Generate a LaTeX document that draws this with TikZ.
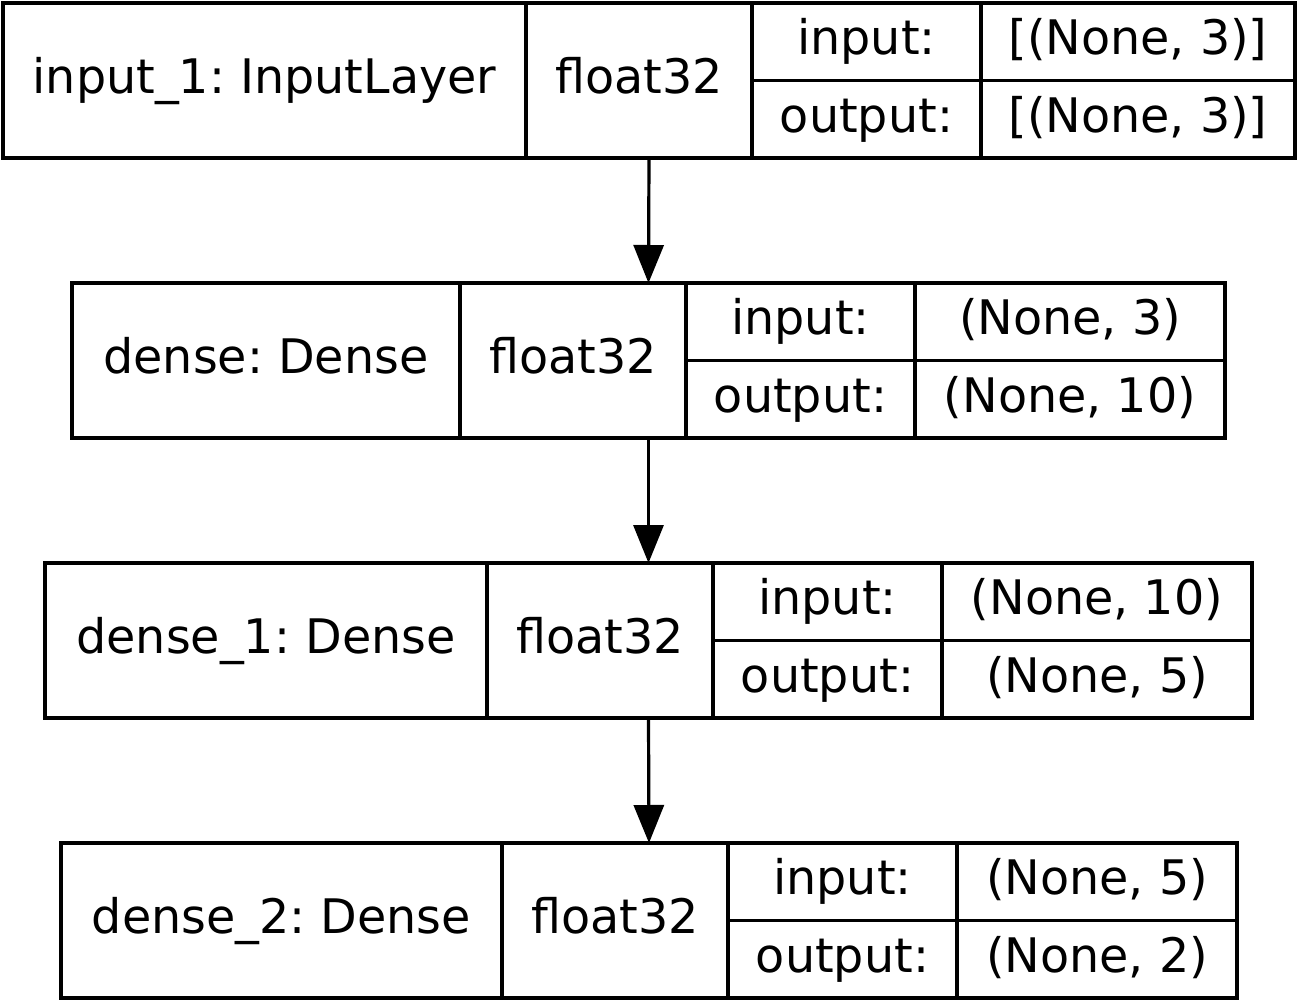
\documentclass[tikz,border=0pt]{standalone}
\usepackage{fontspec}
\setmainfont{DejaVu Sans}
\usetikzlibrary{arrows.meta}
\frenchspacing

\begin{document}
\begin{tikzpicture}[x=0.5pt,y=-0.5pt,line width=1.6pt]
            \tikzset{cell/.style 2 args={draw, inner sep=0pt, outer sep=0pt, minimum width=#1*0.5pt, minimum height=#2*0.5pt, font=\fontsize{23.8}{28}\selectfont, text height=18pt, text depth=5pt}};
            \tikzset{arr/.style={-{Triangle[width=15pt,length=19pt]}}};
            \useasboundingbox (0,0) rectangle (1298,1001);

            % input_1
            \node[cell={1292}{155}] (l1) at (649,80.5) {};
            \node[cell={523}{155}] (n1) at (264.5,80.5) {input\_1: InputLayer};
            \node[cell={226}{155}] (d1) at (639,80.5) {float32};
            \node[cell={229}{77.5}] (il1) at (866.5,41.75) {input:};
            \node[cell={314}{77.5}] (iv1) at (1138,41.75) {[(None, 3)]};
            \node[cell={229}{77.5}] (ol1) at (866.5,119.25) {output:};
            \node[cell={314}{77.5}] (ov1) at (1138,119.25) {[(None, 3)]};

            % dense
            \node[cell={1153}{155}] (l2) at (648.5,360.5) {};
            \node[cell={388}{155}] (n2) at (266,360.5) {dense: Dense};
            \node[cell={226}{155}] (d2) at (573,360.5) {float32};
            \node[cell={229}{77.5}] (il2) at (800.5,321.75) {input:};
            \node[cell={310}{77.5}] (iv2) at (1070,321.75) {(None, 3)};
            \node[cell={229}{77.5}] (ol2) at (800.5,399.25) {output:};
            \node[cell={310}{77.5}] (ov2) at (1070,399.25) {(None, 10)};

            % dense_1
            \node[cell={1207}{155}] (l3) at (648.5,640.5) {};
            \node[cell={442}{155}] (n3) at (266,640.5) {dense\_1: Dense};
            \node[cell={226}{155}] (d3) at (600,640.5) {float32};
            \node[cell={229}{77.5}] (il3) at (827.5,601.75) {input:};
            \node[cell={310}{77.5}] (iv3) at (1097,601.75) {(None, 10)};
            \node[cell={229}{77.5}] (ol3) at (827.5,679.25) {output:};
            \node[cell={310}{77.5}] (ov3) at (1097,679.25) {(None, 5)};

            % dense_2
            \node[cell={1176}{155}] (l4) at (649,920.5) {};
            \node[cell={441}{155}] (n4) at (281.5,920.5) {dense\_2: Dense};
            \node[cell={226}{155}] (d4) at (615,920.5) {float32};
            \node[cell={229}{77.5}] (il4) at (842.5,881.75) {input:};
            \node[cell={280}{77.5}] (iv4) at (1097,881.75) {(None, 5)};
            \node[cell={229}{77.5}] (ol4) at (842.5,959.25) {output:};
            \node[cell={280}{77.5}] (ov4) at (1097,959.25) {(None, 2)};

            \draw[arr] (l1.south) -- (l2.north);
            \draw[arr] (l2.south) -- (l3.north);
            \draw[arr] (l3.south) -- (l4.north);
        \end{tikzpicture}
\end{document}
